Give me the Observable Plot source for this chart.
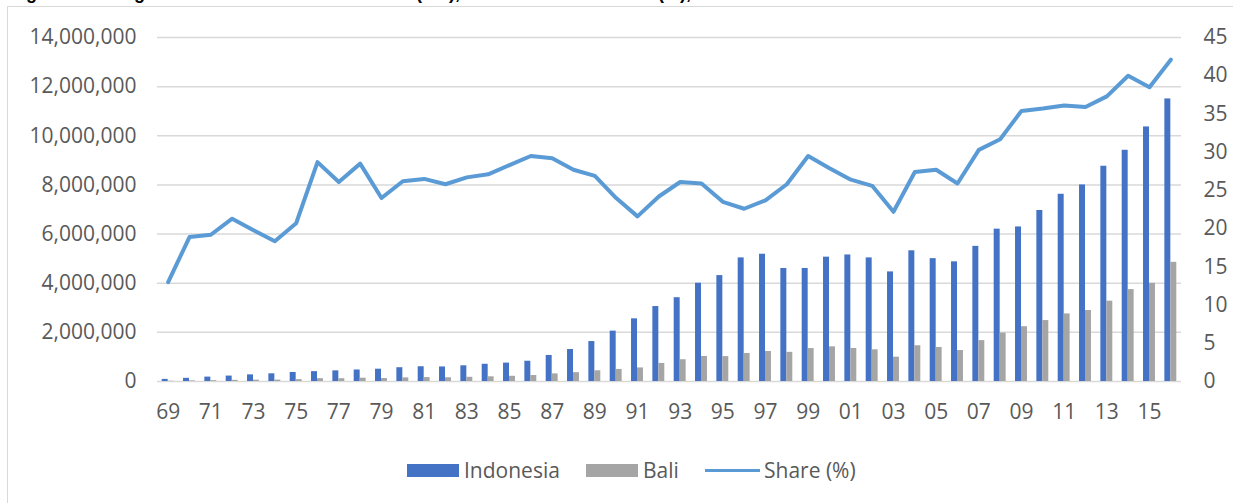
<!DOCTYPE html>
<html>
<head>
<meta charset="utf-8">
<script src="https://cdn.jsdelivr.net/npm/d3@7"></script>
<script src="https://cdn.jsdelivr.net/npm/@observablehq/plot@0.6"></script>
<style>
  html, body { margin: 0; padding: 0; background: #fff; }
  #wrap { position: relative; width: 1233px; height: 503px; overflow: hidden; font-family: "Open Sans", sans-serif; }
  #title { position: absolute; left: 0; top: 0; width: 1233px; height: 6px; overflow: hidden; }
  #title span { position: absolute; left: 10px; top: -17px; font-weight: bold; font-size: 18px; color: #000; white-space: nowrap; font-family: "Liberation Sans", sans-serif; }
  #frame { position: absolute; left: 7px; top: 6px; width: 1300px; height: 600px; border: 1.5px solid #D9D9D9; box-sizing: border-box; }
  #chart { position: absolute; left: 0; top: 0; }
  #legend { position: absolute; left: 0; top: 456px; width: 1233px; height: 30px; font-size: 21px; color: #595959; }
  .item { position: absolute; top: 0; display: flex; align-items: center; height: 28px; }
  .sw { width: 52px; height: 13px; margin-right: 5px; }
  .ln { width: 55px; height: 3px; margin-right: 4px; }
</style>
</head>
<body>
<div id="wrap">
  <div id="title"><span>Figure 1. Foreign visitors to Indonesia and Bali (no.), and Bali share of total (%), 1969–2016</span></div>
  <div id="frame"></div>
  <div id="chart"></div>
  <div id="legend"></div>
</div>
<script>
// ---- data ----
const years = [1969,1970,1971,1972,1973,1974,1975,1976,1977,1978,1979,1980,1981,1982,1983,1984,1985,1986,1987,1988,1989,1990,1991,1992,1993,1994,1995,1996,1997,1998,1999,2000,2001,2002,2003,2004,2005,2006,2007,2008,2009,2010,2011,2012,2013,2014,2015,2016];
const indonesia = [86000,129000,179000,221000,270000,313000,366000,401000,433000,469000,501000,561000,600000,592000,639000,701000,749000,825000,1060000,1301000,1626000,2050000,2550000,3050000,3410000,4000000,4310000,5030000,5180000,4600000,4600000,5060000,5150000,5030000,4460000,5320000,5000000,4870000,5500000,6200000,6290000,6960000,7620000,8000000,8760000,9410000,10360000,11500000];
const bali = [11200,24400,34400,47100,53500,57400,75800,115000,113000,134000,120000,147000,159000,153000,171000,190000,212000,243000,310000,360000,436000,491000,552000,736000,885000,1020000,1014000,1141000,1220000,1187000,1340000,1410000,1345000,1290000,990000,1455000,1385000,1260000,1665000,1970000,2230000,2480000,2750000,2890000,3270000,3740000,3995000,4850000];
const share = [13.0,18.9,19.2,21.3,19.8,18.35,20.7,28.7,26.1,28.5,24.0,26.2,26.5,25.8,26.7,27.1,28.3,29.5,29.2,27.7,26.9,24.0,21.6,24.2,26.1,25.9,23.5,22.6,23.7,25.8,29.5,27.9,26.4,25.6,22.2,27.4,27.7,25.9,30.3,31.7,35.4,35.7,36.1,35.9,37.3,40.0,38.5,42.1];
const leftTicks = [0,2000000,4000000,6000000,8000000,10000000,12000000,14000000];
const rightTicks = [0,5,10,15,20,25,30,35,40,45];
const xTickYears = [1969,1971,1973,1975,1977,1979,1981,1983,1985,1987,1989,1991,1993,1995,1997,1999,2001,2003,2005,2007,2009,2011,2013,2015];
const seriesNames = ["Indonesia","Bali","Share (%)"];
const colors = ["#4472C4","#A5A5A5","#5B9BD5"];

// ---- build ----
const yMax = 14000000, shareMax = 45, half = 0.28;
const data = years.map((y, i) => ({year: y, indonesia: indonesia[i], bali: bali[i], share: share[i]}));
const toLeft = v => v / shareMax * yMax;

const chart = Plot.plot({
  width: 1233,
  height: 440,
  marginLeft: 157,
  marginRight: 52,
  marginTop: 37,
  marginBottom: 59,
  x: {type: "linear", domain: [years[0] - 0.5, years[years.length - 1] + 0.5], axis: null},
  y: {domain: [0, yMax], axis: null},
  style: {fontFamily: "'Open Sans', sans-serif", fontSize: "21px", color: "#595959", background: "transparent", overflow: "visible"},
  marks: [
    Plot.ruleY(leftTicks, {stroke: "#D9D9D9", strokeWidth: 1.5}),
    Plot.axisY(leftTicks, {anchor: "left", tickSize: 0, tickPadding: 21, tickFormat: d3.format(","), label: null, fontSize: 21, fill: "#595959"}),
    Plot.text(rightTicks, {y: d => toLeft(d), text: d => String(d), frameAnchor: "right", textAnchor: "start", dx: 22, fontSize: 21, fill: "#595959"}),
    Plot.axisX(xTickYears, {anchor: "bottom", tickSize: 0, tickPadding: 23, tickFormat: d => String(d).slice(2), label: null, fontSize: 21, fill: "#595959"}),
    Plot.rectY(data, {x1: d => d.year - half, x2: d => d.year, y: "indonesia", fill: colors[0]}),
    Plot.rectY(data, {x1: d => d.year, x2: d => d.year + half, y: "bali", fill: colors[1]}),
    Plot.line(data, {x: "year", y: d => toLeft(d.share), stroke: colors[2], strokeWidth: 4, strokeLinejoin: "round", strokeLinecap: "round"})
  ]
});
document.getElementById("chart").appendChild(chart);

// ---- legend ----
const legend = document.getElementById("legend");
const lefts = [407, 586, 705];
seriesNames.forEach((name, i) => {
  const item = document.createElement("div");
  item.className = "item";
  item.style.left = lefts[i] + "px";
  const sw = document.createElement("div");
  sw.className = i === 2 ? "ln" : "sw";
  sw.style.background = colors[i];
  const tx = document.createElement("span");
  tx.textContent = name;
  item.appendChild(sw);
  item.appendChild(tx);
  legend.appendChild(item);
});
</script>
</body>
</html>
